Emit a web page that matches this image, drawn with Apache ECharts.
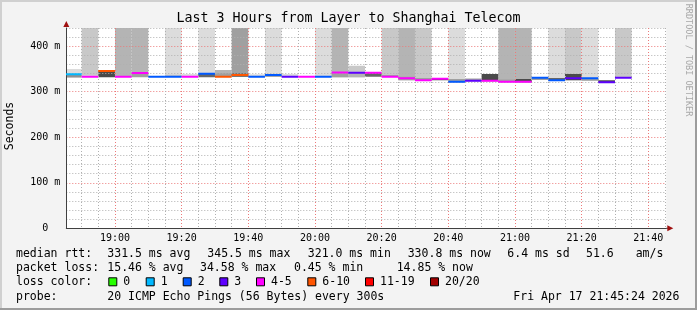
<!DOCTYPE html>
<html><head><meta charset="utf-8">
<script src="https://cdn.jsdelivr.net/npm/echarts@6/dist/echarts.min.js"></script>
<style>html,body{margin:0;padding:0;background:#f3f3f3}#c{width:697px;height:310px}</style>
</head><body><div id="c"></div>
<script>
// ---------------- data ----------------
const titleText = 'Last 3 Hours from Layer to Shanghai Telecom';
const stepStarts = ['18:45','18:50','18:55','19:00','19:05','19:10','19:15','19:20','19:25','19:30','19:35','19:40','19:45','19:50','19:55','20:00','20:05','20:10','20:15','20:20','20:25','20:30','20:35','20:40','20:45','20:50','20:55','21:00','21:05','21:10','21:15','21:20','21:25','21:30'];
const stepMinutes = 5;
const median = [338.5,333,345.5,333,341,333,333,333,339.6,333, 337,333,336.7,333,333,333,342.5,341.5,341.5,333, 329.4,325,328.6,322,324.2,324.2,322,322,330.8,325, 329.4,329.4,321.0,330.8];
const lossBin = [1,4,5,4,4,2,2,4,2,5, 5,2,2,3,4,2,4,3,4,4, 4,4,4,2,3,4,4,4,2,2, 3,2,3,3];
const smokeOuterLo = [331,335,null,334,333,null,334,334,333,335, 335,334,333,334,null,334,332,332,null,334, 325,324,null,321,null,null,321,321,null,324, 325,324,null,330];
const smokeOuterHi = [350,440,null,440,440,null,440,339,440,348, 440,338.5,440,339,null,440,440,357,null,440, 440,440,null,440,null,null,440,440,null,440, 440,440,null,440];
const smokeOuterDensity = [0,1,null,2,2,null,0,0,0,2, 3,0,0,0,null,0,2,1,null,1, 2,1,null,0,null,null,2,2,null,0, 1,0,null,1];
const smokeInnerLo = [331.5,null,331.6,null,332,null,334,null,332,334, 333,null,333,null,null,null,331.6,332,333,334, 325,324,325,321,323,323,321,321,326,324, 325,324,320,null];
const smokeInnerHi = [337,null,345,null,341,null,337.5,null,339,341, 340,null,336,null,null,null,342,343,341,337, 333,330,328.5,328,329,339,327,328,331,330, 339,329.5,325,null];
const smokeInnerDensity = [4,null,6,null,3,null,1,null,5,3, 6,null,4,null,null,null,3,2,5,3, 3,3,6,3,3,6,3,6,3,5, 6,3,6,null];
const xStart = '18:45:24', xEnd = '21:45:24';
const xTickLabels = ['19:00','19:20','19:40','20:00','20:20','20:40','21:00','21:20','21:40'];
const yMax = 440;
const lossLabels = ['0','1','2','3','4-5','6-10','11-19','20/20'];
const statRows = [
  ['median rtt:', ['331.5 ms avg','345.5 ms max','321.0 ms min','330.8 ms now','6.4 ms sd','51.6','am/s']],
  ['packet loss:', ['15.46 % avg','34.58 % max','0.45 % min','14.85 % now']],
];
const probeText = '20 ICMP Echo Pings (56 Bytes) every 300s';
const dateText = 'Fri Apr 17 21:45:24 2026';
const yTitle = 'Seconds';
const sideText = 'RRDTOOL / TOBI OETIKER';

// ---------------- styles ----------------
const lossColors = ['#26ff00','#00b8ff','#0059ff','#5e00ff','#ff00ff','#ff5500','#ff0000','#a10000'];
const smokeShades = ['#dcdcdc','#c8c8c8','#b4b4b4','#a0a0a0','#909090','#666666','#4a4a4a'];
const MONO = '"DejaVu Sans Mono", monospace';
const minorGrid = '#b0b0b0', majorGrid = '#ec7a7a';

const toMin = s => { const p = s.split(':').map(Number); return p[0]*60 + p[1] + (p[2]||0)/60; };
const fmt = v => { const h = Math.floor(v/60), m = Math.round(v - h*60); return String(h).padStart(2,'0')+':'+String(m).padStart(2,'0'); };
const xMin = toMin(xStart), xMax = toMin(xEnd);
const minorX = []; for (let t = Math.ceil(xMin/stepMinutes)*stepMinutes; t <= xMax; t += stepMinutes) minorX.push(t);
const majorX = xTickLabels.map(toMin);
const firstMajorIdx = minorX.indexOf(majorX[0]);
const xLineColors = [0,1,2,3].map(i => ((i - firstMajorIdx) % 4 + 4) % 4 === 0 ? majorGrid : minorGrid);

function bandData(lo, hi, lev) {
  const out = [];
  stepStarts.forEach((s, i) => {
    if (lo[i] == null) return;
    out.push([toMin(s), toMin(s) + stepMinutes, lo[i], hi[i], lev[i]]);
  });
  return out;
}
function bandRender(params, api) {
  const a = api.coord([api.value(0), api.value(3)]);
  const b = api.coord([api.value(1), api.value(2)]);
  return { type: 'rect', shape: { x: a[0], y: a[1], width: b[0]-a[0], height: b[1]-a[1] },
           style: { fill: smokeShades[api.value(4)] } };
}
const medianData = stepStarts.map((s, i) => [toMin(s), toMin(s) + stepMinutes, median[i], lossBin[i]]);

const chart = echarts.init(document.getElementById('c'), null, { renderer: 'canvas' });
chart.setOption({
  animation: false,
  backgroundColor: '#f3f3f3',
  grid: { left: 66.3, right: 30.7, top: 28, bottom: 81.7, show: true, backgroundColor: '#ffffff', borderWidth: 0 },
  xAxis: {
    type: 'value', min: xMin, max: xMax, z: 10,
    axisLine: { show: true, onZero: false, lineStyle: { color: '#404040', width: 1 } },
    axisTick: { show: false, customValues: minorX },
    axisLabel: { customValues: majorX, formatter: v => fmt(v), color: '#000', fontFamily: MONO, fontSize: 10, margin: 5 },
    splitLine: { show: true, lineStyle: { color: xLineColors, type: [1, 2], width: 1 } }
  },
  yAxis: {
    type: 'value', min: 0, max: yMax, interval: 20, z: 10,
    axisLine: { show: true, lineStyle: { color: '#404040', width: 1 } },
    axisTick: { show: false },
    axisLabel: { formatter: v => v % 100 === 0 ? (v === 0 ? '0  ' : v + ' m') : '', color: '#000', fontFamily: MONO, fontSize: 10, margin: 6 },
    splitLine: { show: true, lineStyle: { color: [majorGrid, minorGrid, minorGrid, minorGrid, minorGrid], type: [1, 2], width: 1 } }
  },
  series: [
    { type: 'custom', name: 'smoke outer', data: bandData(smokeOuterLo, smokeOuterHi, smokeOuterDensity),
      renderItem: bandRender, encode: { x: [0, 1], y: [2, 3] }, clip: true, z: 2, silent: true },
    { type: 'custom', name: 'smoke inner', data: bandData(smokeInnerLo, smokeInnerHi, smokeInnerDensity),
      renderItem: bandRender, encode: { x: [0, 1], y: [2, 3] }, clip: true, z: 3, silent: true },
    { type: 'custom', name: 'median', data: medianData, clip: true, z: 20, silent: true,
      encode: { x: [0, 1], y: 2 },
      renderItem(params, api) {
        const a = api.coord([api.value(0), api.value(2)]);
        const b = api.coord([api.value(1), api.value(2)]);
        return { type: 'line', shape: { x1: a[0], y1: a[1], x2: b[0], y2: b[1] },
                 style: { stroke: lossColors[api.value(3)], lineWidth: 2 } };
      } }
  ]
});

// ---------------- decorations & legend ----------------
const tl = chart.convertToPixel({ gridIndex: 0 }, [xMin, yMax]);
const br = chart.convertToPixel({ gridIndex: 0 }, [xMax, 0]);
const g = [];
const txt = (x, y, text, size, extra) => Object.assign({ type: 'text', x, y, z: 100,
  style: Object.assign({ text, fontFamily: MONO, fontSize: size, fill: '#000',
    textAlign: 'left', align: 'left', textVerticalAlign: 'middle', verticalAlign: 'middle' }, extra || {}) });
g.push({ type: 'rect', shape: { x: 0, y: 0, width: 697, height: 2 }, style: { fill: '#d0d0d0' }, z: 100 });
g.push({ type: 'rect', shape: { x: 0, y: 0, width: 2, height: 310 }, style: { fill: '#d0d0d0' }, z: 100 });
g.push({ type: 'rect', shape: { x: 695, y: 0, width: 2, height: 310 }, style: { fill: '#9c9c9c' }, z: 100 });
g.push({ type: 'rect', shape: { x: 0, y: 308, width: 697, height: 2 }, style: { fill: '#9c9c9c' }, z: 100 });
g.push({ type: 'line', shape: { x1: br[0], y1: br[1], x2: br[0] + 2, y2: br[1] }, style: { stroke: '#404040', lineWidth: 1 }, z: 100 });
g.push({ type: 'polygon', shape: { points: [[tl[0]-3, tl[1]-1], [tl[0]+3, tl[1]-1], [tl[0], tl[1]-7]] }, style: { fill: '#a01010' }, z: 100 });
g.push({ type: 'polygon', shape: { points: [[br[0]+1, br[1]-3], [br[0]+1, br[1]+3], [br[0]+7, br[1]]] }, style: { fill: '#a01010' }, z: 100 });
g.push(txt(348.5, 19, titleText, 13.3, { textAlign: 'center', align: 'center' }));
g.push(Object.assign(txt(10, 126, yTitle, 11.5, { textAlign: 'center', align: 'center' }), { rotation: Math.PI / 2 }));
g.push(Object.assign(txt(688, 60, sideText, 8.5, { textAlign: 'center', align: 'center', fill: '#a8a8a8' }), { rotation: -Math.PI / 2 }));
const rowY = [254.3, 268.3, 282.3, 296.7];
const col = 16, valX = 107.3;
const row1X = [107.3, 207.3, 307.8, 407.7, 507.3, 586, 635.7];
const row2X = [107.3, 200, 294, 396.7];
g.push(txt(col, rowY[0], statRows[0][0], 11.5));
statRows[0][1].forEach((t, i) => g.push(txt(row1X[i], rowY[0], t, 11.5)));
g.push(txt(col, rowY[1], statRows[1][0], 11.5));
statRows[1][1].forEach((t, i) => g.push(txt(row2X[i], rowY[1], t, 11.5)));
g.push(txt(col, rowY[2], 'loss color:', 11.5));
const boxX = [108.3, 145.7, 182.7, 219.3, 256, 307.3, 365, 430];
lossLabels.forEach((t, i) => {
  g.push({ type: 'rect', shape: { x: boxX[i] + 0.5, y: rowY[2] - 4.5, width: 8, height: 8 }, style: { fill: lossColors[i], stroke: '#000', lineWidth: 1 }, z: 100 });
  g.push(txt(boxX[i] + 15, rowY[2], t, 11.5));
});
g.push(txt(col, rowY[3], 'probe:', 11.5));
g.push(txt(valX, rowY[3], probeText, 11.5));
g.push(txt(513.3, rowY[3], dateText, 11.5));
chart.setOption({ graphic: { elements: g } });
</script></body></html>
